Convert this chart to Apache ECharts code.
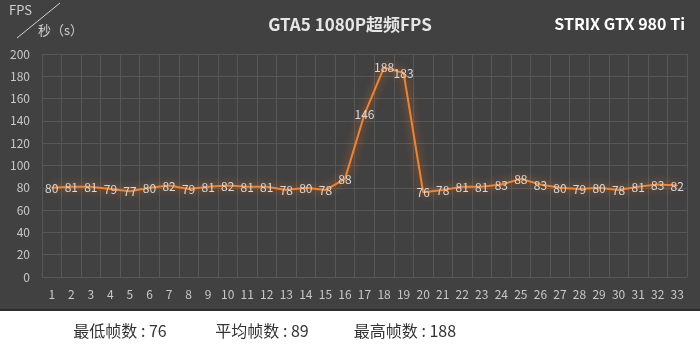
<!DOCTYPE html>
<html><head><meta charset="utf-8">
<script src="https://cdn.jsdelivr.net/npm/echarts@6/dist/echarts.min.js"></script>
<style>html,body{margin:0;padding:0;background:#fff}#c{width:700px;height:351px}</style>
</head><body><div id="c"></div>
<script>
const categories = ['1','2','3','4','5','6','7','8','9','10','11','12','13','14','15','16','17','18','19','20','21','22','23','24','25','26','27','28','29','30','31','32','33'];
const fpsValues = [80,81,81,79,77,80,82,79,81,82,81,81,78,80,78,88,146,188,183,76,78,81,81,83,88,83,80,79,80,78,81,83,82];
const yTicks = [0,20,40,60,80,100,120,140,160,180,200];
const titleText = 'GTA5 1080P超频FPS';
const cardText = 'STRIX GTX 980 Ti';
const statTexts = ['最低帧数 : 76','平均帧数 : 89','最高帧数 : 188'];
const statCenters = [120, 262, 405];

const chart = echarts.init(document.getElementById('c'));
const font = '"Noto Sans CJK SC","Noto Sans",sans-serif';
chart.setOption({
  backgroundColor: '#ffffff',
  animation: false,
  title: [
    {text: titleText, left: 'center', top: 11, textStyle: {color: '#e6e6e6', fontSize: 17, fontWeight: 'bold', fontFamily: font}},
    {text: cardText, right: 10, top: 11, textStyle: {color: '#ffffff', fontSize: 16, fontWeight: 'bold', fontFamily: font}}
  ],
  graphic: [
    {type: 'rect', z: -10, shape: {x: 0, y: 0, width: 700, height: 310}, style: {fill: '#414141'}},
    {type: 'rect', z: -10, shape: {x: 0, y: 309, width: 700, height: 2}, style: {fill: '#2c2c2c'}},
    {type: 'line', shape: {x1: 17, y1: 38, x2: 60, y2: 3}, style: {stroke: '#d0d0d0', lineWidth: 1}},
    {type: 'text', left: 9, top: 4, style: {text: 'FPS', fill: '#d0d0d0', fontSize: 13, fontFamily: font}},
    {type: 'text', left: 38, top: 24, style: {text: '秒（s）', fill: '#d0d0d0', fontSize: 13, fontFamily: font}}
  ].concat(statTexts.map((t, i) => ({
    type: 'text', x: statCenters[i], y: 331,
    style: {text: t, fill: '#333', fontSize: 16, fontFamily: font, align: 'center', verticalAlign: 'middle'}
  }))),
  grid: {left: 42, right: 13, top: 54, bottom: 74},
  xAxis: {
    type: 'category', data: categories, boundaryGap: true,
    axisLine: {show: false}, axisTick: {show: false},
    axisLabel: {color: '#c8c8c8', fontSize: 12, margin: 11, interval: 0, fontFamily: font},
    splitLine: {show: true, interval: 0, lineStyle: {color: '#575757', width: 1}}
  },
  yAxis: {
    type: 'value', min: 0, max: 200, interval: 20,
    axisLine: {show: false}, axisTick: {show: false},
    axisLabel: {color: '#c8c8c8', fontSize: 12, margin: 12, fontFamily: font,
      formatter: v => yTicks.includes(v) ? String(v) : ''},
    splitLine: {lineStyle: {color: '#575757', width: 1}}
  },
  series: [{
    type: 'line', data: fpsValues, symbol: 'circle', symbolSize: 1, showSymbol: true,
    itemStyle: {color: '#f5822a'},
    lineStyle: {color: '#f5822a', width: 2, shadowColor: 'rgba(245,130,42,0.8)', shadowBlur: 10},
    label: {show: true, position: 'top', offset: [0, 12], color: '#d8d8d8', fontSize: 12, fontFamily: font}
  }]
});
</script></body></html>
